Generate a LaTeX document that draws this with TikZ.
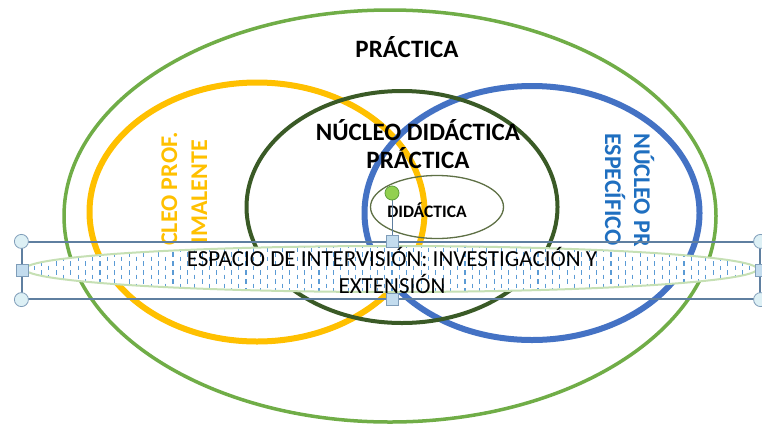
\documentclass[tikz,border=0pt]{standalone}
\usepackage{fontspec}
\setmainfont{Carlito}
\usetikzlibrary{shapes.geometric}
\definecolor{outergreen}{HTML}{70AD47}
\definecolor{ringyellow}{HTML}{FFC000}
\definecolor{ringblue}{HTML}{4472C4}
\definecolor{ringdark}{HTML}{3A5A26}
\definecolor{smallring}{HTML}{5E7045}
\definecolor{bluetext}{HTML}{1F6FC0}
\definecolor{hatchblue}{HTML}{5B9BD5}
\definecolor{lensborder}{HTML}{C6E0B4}
\definecolor{selline}{HTML}{5F7FA0}
\definecolor{handlecirc}{HTML}{DDF0F5}
\definecolor{handlesq}{HTML}{C3DCEE}
\definecolor{handleedge}{HTML}{7F9DB9}
\definecolor{dotgreen}{HTML}{92D050}
\definecolor{dotedge}{HTML}{5F9E3A}
\begin{document}
\begin{tikzpicture}[x=1pt,y=-1pt,
  ring/.style={ellipse, inner sep=0pt, draw=#1},
  bigtitle/.style={font=\fontsize{25}{28}\selectfont\bfseries, inner sep=0pt, align=center},
  sidetext/.style={font=\fontsize{24}{29}\selectfont\bfseries, inner sep=0pt},
  hatchline/.style={hatchblue, line width=1.1pt, dash pattern=on 4.5pt off 4.5pt},
  circhandle/.style={circle, draw=handleedge, fill=handlecirc, line width=0.8pt, minimum size=14pt, inner sep=0pt},
  sqhandle/.style={rectangle, draw=handleedge, fill=handlesq, line width=0.8pt, minimum size=12pt, inner sep=0pt}]
\useasboundingbox (0,0) rectangle (762,429);
\fill[white] (0,0) rectangle (762,429);

% rings
\node[ring=outergreen, line width=3.5pt, minimum width=652pt, minimum height=412pt] (outer) at (390,216) {};
\node[ring=ringyellow, line width=6pt, minimum width=335pt, minimum height=259pt] (yel) at (257,212) {};
\node[ring=ringblue, line width=6pt, minimum width=335pt, minimum height=254pt] (blu) at (532,213) {};
\node[ring=ringdark, line width=4pt, minimum width=311pt, minimum height=232pt] (dark) at (402,207) {};
\node[ring=smallring, line width=1.3pt, minimum width=133pt, minimum height=63pt] (small) at (437,207) {};

% texts
\node[bigtitle] (t1) at (407,47) {PRÁCTICA};
\node[bigtitle] (t2) at (418,144) {NÚCLEO DIDÁCTICA\\PRÁCTICA};
\node[font=\fontsize{17.5}{20}\selectfont\bfseries, inner sep=0pt] (t3) at (427,210) {DIDÁCTICA};
\node[sidetext, ringyellow, rotate=90, anchor=base east] (y1) at (177,132) {CLEO PROF.};
\node[sidetext, ringyellow, rotate=90, anchor=base east] (y2) at (207,140) {IMALENTE};
\node[sidetext, bluetext, rotate=-90, anchor=base west] (b1) at (634,133) {NÚCLEO PR};
\node[sidetext, bluetext, rotate=-90, anchor=base west] (b2) at (605,133) {ESPECÍFICO};

% hatched lens
\node[ellipse, fill=white, minimum width=732pt, minimum height=46pt, inner sep=0pt] (lens) at (391,269) {};
\begin{scope}
  \clip (391,269) ellipse [x radius=366, y radius=23];
  \foreach \i [evaluate=\i as \ph using {mod(\i,2)*4.5}] in {0,...,100}
    \draw[hatchline, dash phase=\ph pt] (27+\i*7.3,243) -- ++(0,56);
\end{scope}
\draw[lensborder, line width=2pt] (lens.center) ellipse [x radius=366, y radius=23];
\node[font=\fontsize{23}{27}\selectfont, inner sep=0pt, align=center] (t4) at (392,270) {ESPACIO DE INTERVISIÓN: INVESTIGACIÓN Y\\EXTENSIÓN};

% selection frame
\node[draw=selline, line width=1.2pt, minimum width=738pt, minimum height=57pt, inner sep=0pt] (sel) at (391,270.5) {};
\coordinate (rot) at (392,193);
\draw[selline, line width=1pt] (rot) -- (sel.north -| rot);
\foreach \a in {north west, south west, north east, south east}
  \node[circhandle] at (sel.\a) {};
\foreach \a in {west, east, north, south}
  \node[sqhandle] at ([xshift=1pt]sel.\a) {};
\node[circle, fill=dotgreen, draw=dotedge, line width=0.8pt, minimum size=14pt, inner sep=0pt] (rotdot) at (rot) {};
\end{tikzpicture}
\end{document}
